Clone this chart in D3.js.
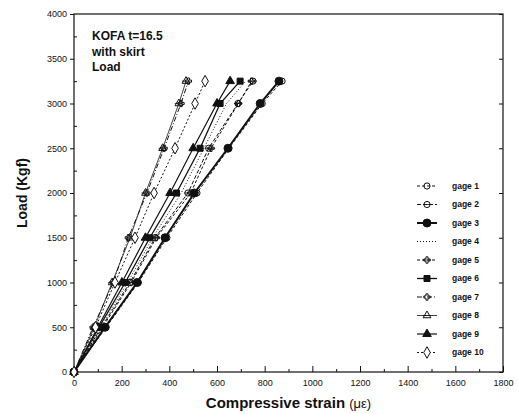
<!DOCTYPE html>
<meta charset="utf-8">
<style>
body { margin: 0; background: #fff; }
text { font-family: Arial, "Liberation Sans", sans-serif; fill: #111; }
.tick text { font-size: 9px; }
.legend text { font-size: 8.5px; font-weight: bold; }
</style>
<body>
<svg width="518" height="414"></svg>
<script src="https://cdnjs.cloudflare.com/ajax/libs/d3/7.8.5/d3.min.js"></script>
<script>

// loads applied (kgf)
var loads = [0, 500, 1000, 1500, 2000, 2500, 3000, 3250];

// compressive strain (micro-strain) for each gage at each load
var gage1  = [0, 135, 270, 390, 516, 650, 790, 873];
var gage2  = [0, 115, 235, 340, 478, 565, 688, 751];
var gage3  = [0, 130, 265, 382, 505, 646, 781, 860];
var gage4  = [0, 110, 225, 330, 450, 545, 640, 720];
var gage5  = [0, 120, 240, 345, 490, 575, 690, 745];
var gage6  = [0, 105, 215, 318, 430, 529, 613, 697];
var gage7  = [0, 80, 165, 228, 306, 378, 449, 480];
var gage8  = [0, 85, 160, 235, 300, 372, 440, 470];
var gage9  = [0, 100, 201, 300, 403, 500, 600, 655];
var gage10 = [0, 90, 172, 256, 336, 424, 508, 550];

var gageNames = ["gage 1","gage 2","gage 3","gage 4","gage 5","gage 6","gage 7","gage 8","gage 9","gage 10"];
var gageData = [gage1, gage2, gage3, gage4, gage5, gage6, gage7, gage8, gage9, gage10];

var xTicks = [0, 200, 400, 600, 800, 1000, 1200, 1400, 1600, 1800];
var yTicks = [0, 500, 1000, 1500, 2000, 2500, 3000, 3500, 4000];

// drawing style per gage
var styles = [
  {dash: "3,2", width: 1,   sym: d3.symbolCircle,   fill: "none", size: 30},
  {dash: "4,2", width: 1,   sym: d3.symbolCircle,   fill: "none", size: 30, bar: true},
  {dash: null,  width: 2,   sym: d3.symbolCircle,   fill: "#111", size: 50},
  {dash: "1,2", width: 1,   sym: null},
  {dash: "3,2", width: 1,   sym: d3.symbolCross,    fill: "none", size: 22, bar: true},
  {dash: null,  width: 1.3, sym: d3.symbolSquare,   fill: "#111", size: 36},
  {dash: "5,2,1,2", width: 1, sym: d3.symbolCross,  fill: "none", size: 22},
  {dash: null,  width: 0.8, sym: d3.symbolTriangle, fill: "none", size: 26, bar: true},
  {dash: null,  width: 1.2, sym: d3.symbolTriangle, fill: "#111", size: 32},
  {dash: "2,2", width: 1,   sym: d3.symbolDiamond,  fill: "#fff", size: 38}
];

var svg = d3.select("svg"),
    margin = {top: 14, right: 15, bottom: 42, left: 74},
    width = +svg.attr("width") - margin.left - margin.right,
    height = +svg.attr("height") - margin.top - margin.bottom;

var x = d3.scaleLinear().domain([0, 1800]).range([0, width]);
var y = d3.scaleLinear().domain([0, 4000]).range([height, 0]);

var g = svg.append("g").attr("transform", "translate(" + margin.left + "," + margin.top + ")");

// frame
g.append("rect")
    .attr("width", width).attr("height", height)
    .attr("fill", "none").attr("stroke", "#111").attr("stroke-width", 1.2);

// x axis: inward ticks, major + minor
g.append("g")
    .attr("transform", "translate(0," + height + ")")
    .call(d3.axisBottom(x).tickValues(d3.range(100, 1800, 200)).tickSize(-3).tickFormat(""))
    .call(function(a) { a.select(".domain").remove(); });
g.append("g")
    .attr("transform", "translate(0," + height + ")")
    .call(d3.axisBottom(x).tickValues(xTicks).tickSize(-6).tickPadding(13).tickFormat(d3.format("d")))
    .call(function(a) { a.select(".domain").remove(); a.selectAll("text").attr("dy", "0.1em"); });

// y axis
g.append("g")
    .call(d3.axisLeft(y).tickValues(yTicks).tickSize(4).tickPadding(3).tickFormat(d3.format("d")))
    .call(function(a) { a.select(".domain").remove(); });
g.append("g")
    .call(d3.axisLeft(y).tickValues(d3.range(250, 4000, 500)).tickSize(-3).tickFormat(""))
    .call(function(a) { a.select(".domain").remove(); });
// right side ticks
g.append("g")
    .attr("transform", "translate(" + width + ",0)")
    .call(d3.axisRight(y).tickValues(yTicks).tickSize(-4).tickFormat(""))
    .call(function(a) { a.select(".domain").remove(); });

svg.selectAll(".tick line").attr("stroke", "#111");

var line = d3.line()
    .x(function(d) { return x(d[0]); })
    .y(function(d) { return y(d[1]); });

function drawMarker(sel, s) {
  if (!s.sym) return;
  sel.append("path")
      .attr("d", d3.symbol().type(s.sym).size(s.size))
      .attr("fill", s.fill)
      .attr("stroke", "#111")
      .attr("stroke-width", 1);
  if (s.bar) {
    sel.append("line").attr("x1", -4).attr("x2", 4)
        .attr("stroke", "#111").attr("stroke-width", 0.8);
  }
}

gageData.forEach(function(vals, i) {
  var s = styles[i];
  var pts = vals.map(function(v, j) { return [v, loads[j]]; });
  g.append("path")
      .datum(pts)
      .attr("fill", "none")
      .attr("stroke", "#111")
      .attr("stroke-width", s.width)
      .attr("stroke-dasharray", s.dash)
      .attr("d", line);
  g.selectAll(".m" + i)
      .data(pts)
    .enter().append("g")
      .attr("class", "m" + i)
      .attr("transform", function(d) { return "translate(" + x(d[0]) + "," + y(d[1]) + ")"; })
      .each(function() { drawMarker(d3.select(this), s); });
});

// legend
var legend = g.selectAll(".legend")
    .data(gageNames)
  .enter().append("g")
    .attr("class", "legend")
    .attr("transform", function(d, i) { return "translate(" + 353 + "," + (172 + i * 18.5) + ")"; });

legend.append("line")
    .attr("x1", -10).attr("x2", 10)
    .attr("stroke", "#111")
    .attr("stroke-width", function(d, i) { return styles[i].width; })
    .attr("stroke-dasharray", function(d, i) { return styles[i].dash; });

legend.each(function(d, i) { drawMarker(d3.select(this), styles[i]); });

legend.append("text")
    .attr("x", 25)
    .attr("dy", "0.35em")
    .text(function(d) { return d; });

// annotation
var note = g.append("text")
    .attr("x", 18).attr("y", 26)
    .style("font-size", "12px").style("font-weight", "bold");
["KOFA t=16.5", "with skirt", "Load"].forEach(function(t, i) {
  note.append("tspan").attr("x", 18).attr("dy", i ? 15.5 : 0).text(t);
});

// axis titles
svg.append("text")
    .attr("transform", "translate(27," + (margin.top + height / 2) + ") rotate(-90)")
    .attr("text-anchor", "middle")
    .style("font-size", "14px").style("font-weight", "bold")
    .text("Load (Kgf)");

var xt = svg.append("text")
    .attr("x", margin.left + width / 2)
    .attr("y", 408)
    .attr("text-anchor", "middle")
    .style("font-size", "15px").style("font-weight", "bold");
xt.append("tspan").text("Compressive strain ");
xt.append("tspan").style("font-weight", "normal").style("font-size", "13px").text("(με)");

</script>
</body>
